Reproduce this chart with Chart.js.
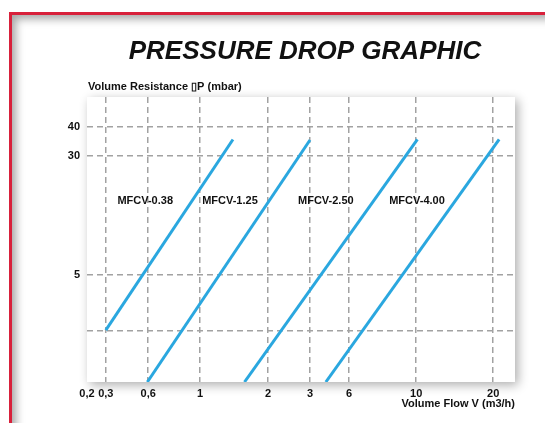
<!DOCTYPE html>
<html lang="en">
<head>
  <meta charset="UTF-8" />
  <title>Pressure Drop Graphic</title>
  <script src="https://cdn.jsdelivr.net/npm/chart.js"></script>
  <style>
    html, body {
      margin: 0;
      padding: 0;
      background: #fff;
      overflow: hidden;
    }
    .frame {
      position: absolute;
      left: 9px;
      top: 12px;
      width: 560px;
      height: 430px;
      border-top: 3px solid #d8213b;
      border-left: 3px solid #d8213b;
      box-shadow: inset 7px 7px 9px -3px rgba(0, 0, 0, 0.35);
    }
    .wrap {
      position: absolute;
      left: 0;
      top: 0;
      width: 545px;
      height: 423px;
    }
  </style>
</head>
<body>
  <div class="frame"></div>
  <div class="wrap">
    <canvas id="myChart"></canvas>
  </div>

  <script>
    // the chart is a drawn diagram, not a true log scale:
    // both axes run 0..100 "diagram units", ticks sit where the picture puts them
    const xTickPos = [0, 4.4, 14.3, 26.4, 42.3, 52.1, 61.2, 76.9, 94.9];
    const xTickLabels = ['0,2', '0,3', '0,6', '1', '2', '3', '6', '10', '20'];
    const yTickPos = [17.9, 37.5, 79.4, 89.4];
    const yTickLabels = ['', '5', '30', '40'];

    const seriesNames = ['MFCV-0.38', 'MFCV-1.25', 'MFCV-2.50', 'MFCV-4.00'];
    // start / end of each line
    const mfcv038X = [4.4, 34.1];
    const mfcv038Y = [18.2, 85.1];
    const mfcv125X = [14.1, 52.1];
    const mfcv125Y = [0, 84.9];
    const mfcv250X = [36.8, 77.2];
    const mfcv250Y = [0, 85.1];
    const mfcv400X = [55.8, 96.3];
    const mfcv400Y = [0, 85.1];

    const FONT = '"Liberation Sans", Arial, sans-serif';

    function pts(xs, ys) {
      return xs.map((x, i) => ({ x: x, y: ys[i] }));
    }

    const lineSet = [
      pts(mfcv038X, mfcv038Y),
      pts(mfcv125X, mfcv125Y),
      pts(mfcv250X, mfcv250Y),
      pts(mfcv400X, mfcv400Y)
    ];

    // white plot box with soft shadow
    const plotBox = {
      id: 'plotBox',
      beforeDraw(chart) {
        const a = chart.chartArea;
        const ctx = chart.ctx;
        ctx.save();
        ctx.shadowColor = 'rgba(0,0,0,0.32)';
        ctx.shadowBlur = 10;
        ctx.shadowOffsetX = 3;
        ctx.shadowOffsetY = 3;
        ctx.fillStyle = '#fff';
        ctx.fillRect(a.left, a.top, a.right - a.left, a.bottom - a.top);
        ctx.restore();
      }
    };

    // title, axis captions and the series names
    const texts = {
      id: 'texts',
      afterDraw(chart) {
        const ctx = chart.ctx;
        const a = chart.chartArea;
        const xs = chart.scales.x;
        const ys = chart.scales.y;
        ctx.save();
        ctx.fillStyle = '#111';
        ctx.textBaseline = 'middle';

        ctx.font = 'italic bold 26px ' + FONT;
        ctx.textAlign = 'center';
        ctx.fillText('PRESSURE DROP GRAPHIC', 305, 52);

        ctx.font = 'bold 11px ' + FONT;
        ctx.textAlign = 'left';
        ctx.fillText('Volume Resistance \u25AFP (mbar)', a.left + 1, 87);
        ctx.textAlign = 'right';
        ctx.fillText('Volume Flow V (m3/h)', a.right, 404);

        const labelX = [13.6, 33.4, 55.8, 77.1];
        ctx.textAlign = 'center';
        seriesNames.forEach((name, i) => {
          ctx.fillText(name, xs.getPixelForValue(labelX[i]), ys.getPixelForValue(63.5));
        });
        ctx.restore();
      }
    };

    const ctx = document.getElementById('myChart').getContext('2d');

    new Chart(ctx, {
      type: 'scatter',
      data: {
        datasets: lineSet.map((d, i) => ({
          label: seriesNames[i],
          data: d,
          showLine: true,
          borderColor: '#2aa7df',
          borderWidth: 3,
          pointRadius: 0,
          fill: false
        }))
      },
      options: {
        responsive: true,
        maintainAspectRatio: false,
        animation: false,
        layout: {
          padding: { left: 0, right: 30, top: 97, bottom: 0 }
        },
        scales: {
          x: {
            type: 'linear',
            min: 0,
            max: 100,
            afterBuildTicks: s => { s.ticks = xTickPos.map(v => ({ value: v })); },
            afterFit: s => { s.height = 41; },
            border: { display: false, dash: [6, 4] },
            grid: {
              drawTicks: false,
              lineWidth: 1.5,
              color: c => (c.index === 0 ? 'rgba(0,0,0,0)' : '#a2a2a2')
            },
            ticks: {
              autoSkip: false,
              maxRotation: 0,
              padding: 5,
              color: '#111',
              font: { family: FONT, size: 11, weight: 'bold' },
              callback: (v, i) => xTickLabels[i]
            }
          },
          y: {
            type: 'linear',
            min: 0,
            max: 100,
            afterBuildTicks: s => { s.ticks = yTickPos.map(v => ({ value: v })); },
            afterFit: s => { s.width = 87; },
            border: { display: false, dash: [6, 4] },
            grid: {
              drawTicks: false,
              lineWidth: 1.5,
              color: '#a2a2a2'
            },
            ticks: {
              autoSkip: false,
              padding: 7,
              color: '#111',
              font: { family: FONT, size: 11, weight: 'bold' },
              callback: (v, i) => yTickLabels[i]
            }
          }
        },
        plugins: {
          legend: { display: false },
          tooltip: { enabled: false }
        }
      },
      plugins: [plotBox, texts]
    });
  </script>
</body>
</html>
